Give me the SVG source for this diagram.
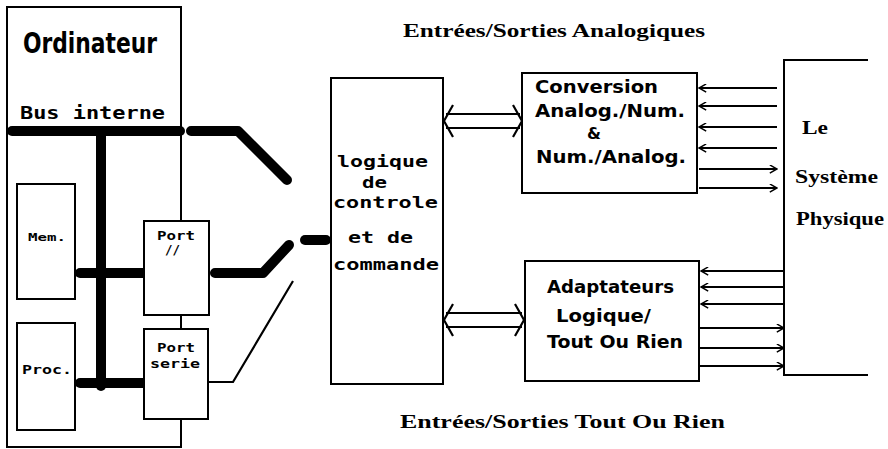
<svg xmlns="http://www.w3.org/2000/svg" width="888" height="449" viewBox="0 0 888 449">
<defs>
<style>
.box{fill:#fff;stroke:#000;stroke-width:2}
.thin{fill:none;stroke:#000;stroke-width:2}
.bus{fill:none;stroke:#000;stroke-width:10;stroke-linecap:round;stroke-linejoin:round}
.wire{fill:none;stroke:#000;stroke-width:2.2}
.px{font-family:"DejaVu Sans Mono","Liberation Mono",monospace;font-weight:bold;fill:#000}
.sb{font-family:"DejaVu Sans","Liberation Sans",sans-serif;font-weight:bold;fill:#000}
.sf{font-family:"Liberation Serif","DejaVu Serif",serif;font-weight:bold;fill:#000}
</style>
<marker id="ah" viewBox="0 0 10 10" refX="9" refY="5" markerWidth="9" markerHeight="9" markerUnits="userSpaceOnUse" orient="auto">
<path d="M1,0.5 L9,5 L1,9.5" fill="none" stroke="#000" stroke-width="1.6"/>
</marker>
</defs>

<g id="ordinateur">
<rect class="box" x="7" y="7" width="174" height="440"/>
<text class="sb" x="23" y="53" font-size="28" textLength="134" lengthAdjust="spacingAndGlyphs" style="font-family:'DejaVu Sans Condensed','DejaVu Sans',sans-serif">Ordinateur</text>
<text class="px" x="20" y="119" font-size="17" textLength="145" lengthAdjust="spacingAndGlyphs">Bus interne</text>
</g>

<g id="mem">
<rect class="box" x="17" y="184" width="58" height="115"/>
<text class="px" x="28" y="241" font-size="11" textLength="38" lengthAdjust="spacingAndGlyphs">Mem.</text>
</g>
<g id="proc">
<rect class="box" x="17" y="323" width="58" height="107"/>
<text class="px" x="22" y="374" font-size="12" textLength="50" lengthAdjust="spacingAndGlyphs">Proc.</text>
</g>

<g id="bus">
<path class="bus" d="M12,131 H180" stroke-width="11"/>
<path class="bus" d="M101,131 V386" stroke-width="11"/>
<path class="bus" d="M80,273 H144"/>
<path class="bus" d="M80,383 H144"/>
</g>

<g id="port-par">
<rect class="box" x="144" y="221" width="65" height="94"/>
<text class="px" x="157" y="240" font-size="12" textLength="38" lengthAdjust="spacingAndGlyphs">Port</text>
<text class="px" x="165" y="254" font-size="12" textLength="15" lengthAdjust="spacingAndGlyphs">//</text>
</g>
<g id="port-serie">
<rect class="box" x="144" y="329" width="64" height="90"/>
<text class="px" x="157" y="352" font-size="12" textLength="38" lengthAdjust="spacingAndGlyphs">Port</text>
<text class="px" x="150" y="368" font-size="12" textLength="50" lengthAdjust="spacingAndGlyphs">serie</text>
</g>

<g id="connectors">
<path class="bus" d="M191,131 H238 L287,180" stroke-width="11"/>
<path class="bus" d="M215,273 H263 L289,245"/>
<path class="wire" stroke-width="3" d="M208,382 H233 L293,281"/>
<path class="bus" d="M305,240 H326" stroke-width="8"/>
<g id="dbl-top" class="wire" stroke-width="3">
<path d="M446,114 H520 M446,128 H520"/>
<path d="M453,105 L444,121 L453,137"/>
<path d="M513,105 L522,121 L513,137"/>
</g>
<g id="dbl-bot" class="wire" stroke-width="3">
<path d="M446,313 H522 M446,327 H522"/>
<path d="M453,304 L444,320 L453,336"/>
<path d="M515,304 L524,320 L515,336"/>
</g>
<g class="wire" marker-end="url(#ah)">
<path d="M777,88 H699"/>
<path d="M777,106 H699"/>
<path d="M777,127 H699"/>
<path d="M777,148 H699"/>
<path d="M699,169 H777"/>
<path d="M699,188 H777"/>
<path d="M784,271 H701"/>
<path d="M784,287 H701"/>
<path d="M784,304 H701"/>
<path d="M699,328 H784"/>
<path d="M699,348 H784"/>
<path d="M699,366 H784"/>
</g>
</g>

<g id="logique">
<rect class="box" x="331" y="78" width="112" height="306"/>
<text class="px" x="337" y="167" font-size="15" textLength="91" lengthAdjust="spacingAndGlyphs">logique</text>
<text class="px" x="362" y="188" font-size="15" textLength="25" lengthAdjust="spacingAndGlyphs">de</text>
<text class="px" x="333" y="208" font-size="15" textLength="105" lengthAdjust="spacingAndGlyphs">controle</text>
<text class="px" x="348" y="243" font-size="15" textLength="65" lengthAdjust="spacingAndGlyphs">et de</text>
<text class="px" x="333" y="270" font-size="15" textLength="106" lengthAdjust="spacingAndGlyphs">commande</text>
</g>

<g id="conversion">
<rect class="box" x="522" y="73" width="175" height="120"/>
<text class="sb" x="535" y="93" font-size="17" textLength="123" lengthAdjust="spacingAndGlyphs">Conversion</text>
<text class="sb" x="535" y="117" font-size="17" textLength="150" lengthAdjust="spacingAndGlyphs">Analog./Num.</text>
<text class="sb" x="587" y="139" font-size="16">&amp;</text>
<text class="sb" x="536" y="163" font-size="17" textLength="150" lengthAdjust="spacingAndGlyphs">Num./Analog.</text>
</g>

<g id="adaptateurs">
<rect class="box" x="525" y="261" width="174" height="120"/>
<text class="sb" x="547" y="293" font-size="17" textLength="127" lengthAdjust="spacingAndGlyphs">Adaptateurs</text>
<text class="sb" x="556" y="322" font-size="17" textLength="95" lengthAdjust="spacingAndGlyphs">Logique/</text>
<text class="sb" x="547" y="348" font-size="17" textLength="136" lengthAdjust="spacingAndGlyphs">Tout Ou Rien</text>
</g>

<g id="systeme">
<path class="thin" d="M868,60 H784 V375 H868"/>
<text class="sf" x="802" y="134" font-size="18" textLength="26" lengthAdjust="spacingAndGlyphs">Le</text>
<text class="sf" x="795" y="183" font-size="18" textLength="83" lengthAdjust="spacingAndGlyphs">Système</text>
<text class="sf" x="796" y="225" font-size="18" textLength="88" lengthAdjust="spacingAndGlyphs">Physique</text>
</g>

<g id="labels">
<text class="sf" x="403" y="37" font-size="18" textLength="302" lengthAdjust="spacingAndGlyphs">Entrées/Sorties Analogiques</text>
<text class="sf" x="400" y="428" font-size="18" textLength="325" lengthAdjust="spacingAndGlyphs">Entrées/Sorties Tout Ou Rien</text>
</g>
</svg>
